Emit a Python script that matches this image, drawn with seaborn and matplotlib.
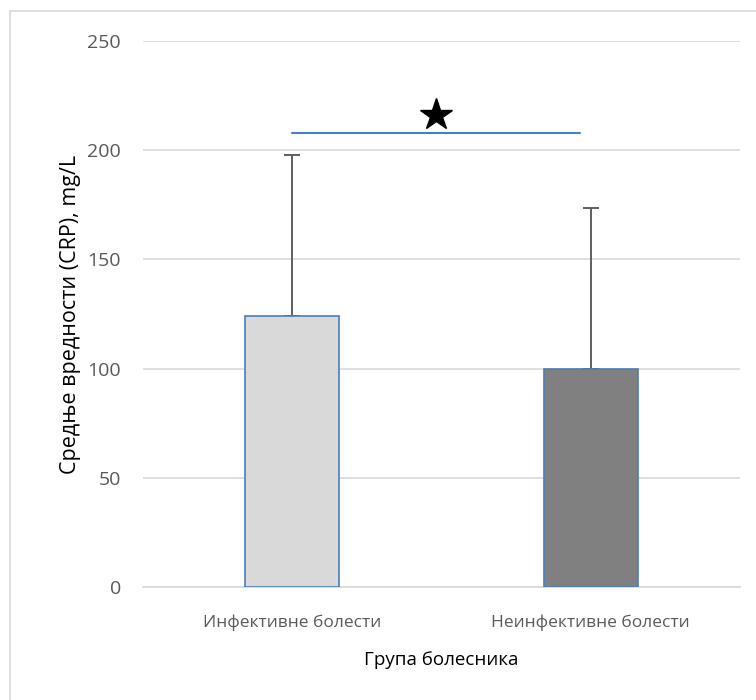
import pandas as pd
import matplotlib.pyplot as plt
import seaborn as sns
from matplotlib.patches import Rectangle

groups = ["Инфективне болести", "Неинфективне болести"]
means = [124, 100]
err_up = [74, 73.5]
bar_colors = ["#d9d9d9", "#808080"]
sig_y = 208
star_y = 216

sns.set_theme(style="white")
plt.rcParams["font.family"] = ["Open Sans", "DejaVu Sans"]

df = pd.DataFrame({"group": groups, "mean": means})

fig = plt.figure(figsize=(7.56, 7.0), dpi=100)
ax = fig.add_axes([143 / 756, 113 / 700, 597 / 756, 546 / 700])

sns.barplot(data=df, x="group", y="mean", hue="group", palette=bar_colors,
            width=0.315, errorbar=None, legend=False, ax=ax,
            edgecolor="#4a7ebb", linewidth=1.2, zorder=3)

ax.errorbar(range(len(groups)), means, yerr=[[0] * len(groups), err_up],
            fmt="none", ecolor="#5f5f5f", elinewidth=1.4, capsize=6,
            capthick=1.4, zorder=2)

ax.set_ylim(0, 250)
ax.set_xlim(-0.5, 1.5)
ax.set_yticks([0, 50, 100, 150, 200, 250])
ax.yaxis.grid(True, color="#d9d9d9", linewidth=1.2, zorder=0)
ax.set_axisbelow(True)
for side in ["top", "right", "left"]:
    ax.spines[side].set_visible(False)
ax.spines["bottom"].set_color("#d9d9d9")
ax.spines["bottom"].set_linewidth(1.2)
ax.tick_params(axis="both", length=0, colors="#595959")
ax.tick_params(axis="y", pad=16, labelsize=14)
ax.tick_params(axis="x", pad=20, labelsize=12.5)

ax.set_xlabel("Група болесника", fontsize=13.5, color="black", labelpad=14)
ax.set_ylabel("Средње вредности (CRP), mg/L", fontsize=15.5, color="black",
              labelpad=4)

# significance bracket
ax.plot([0, 0.965], [sig_y, sig_y], color="#4a7ebb", linewidth=1.5,
        clip_on=False, zorder=4)
ax.plot([0.48], [star_y], marker="*", markersize=24, color="black",
        clip_on=False, zorder=4)

fig.patches.append(Rectangle((10 / 756, -0.1), 1.2, (700 - 11) / 700 + 0.1,
                             transform=fig.transFigure, fill=False,
                             edgecolor="#d9d9d9", linewidth=1.2))

fig.savefig("out.png", dpi=100)
